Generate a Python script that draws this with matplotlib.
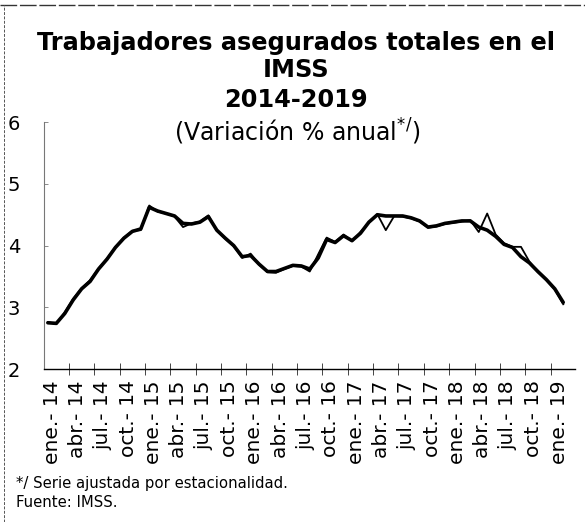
import matplotlib
matplotlib.use("Agg")
import matplotlib.pyplot as plt
from matplotlib.lines import Line2D

# monthly series, ene-14 .. feb-19 (% annual change)
serie_ajustada = [2.75, 2.74, 2.90, 3.12, 3.30, 3.42, 3.62, 3.78, 3.97, 4.12,
                  4.23, 4.27, 4.62, 4.56, 4.52, 4.48, 4.36, 4.35, 4.38, 4.47,
                  4.25, 4.12, 4.00, 3.82, 3.84, 3.70, 3.58, 3.58, 3.63, 3.68,
                  3.67, 3.62, 3.80, 4.10, 4.05, 4.16, 4.08, 4.20, 4.38, 4.50,
                  4.48, 4.48, 4.48, 4.45, 4.40, 4.30, 4.32, 4.36, 4.38, 4.40,
                  4.40, 4.30, 4.25, 4.15, 4.02, 3.97, 3.82, 3.72, 3.58, 3.45,
                  3.30, 3.08]
serie_original = [2.76, 2.73, 2.92, 3.14, 3.31, 3.44, 3.63, 3.79, 3.98, 4.13,
                  4.24, 4.25, 4.65, 4.55, 4.52, 4.47, 4.30, 4.36, 4.39, 4.49,
                  4.24, 4.11, 3.99, 3.80, 3.87, 3.69, 3.57, 3.56, 3.62, 3.67,
                  3.66, 3.58, 3.86, 4.13, 4.06, 4.18, 4.07, 4.22, 4.37, 4.51,
                  4.25, 4.48, 4.47, 4.44, 4.39, 4.29, 4.31, 4.35, 4.37, 4.39,
                  4.41, 4.22, 4.52, 4.18, 4.04, 3.98, 3.98, 3.74, 3.57, 3.44,
                  3.29, 3.05]
meses = ["ene.", "abr.", "jul.", "oct."]
anios = ["14", "15", "16", "17", "18", "19"]
etiquetas = [f"{m}- {a}" for a in anios for m in meses][:21]
y_ticks = [2, 3, 4, 5, 6]

fig = plt.figure(figsize=(5.85, 5.22), dpi=100)
ax = fig.add_axes([0.075, 0.293, 0.908, 0.473])

x = list(range(len(serie_ajustada)))
ax.plot(x, serie_ajustada, color="black", lw=2.6, solid_capstyle="round")
ax.plot(x, serie_original, color="black", lw=1.3)

ax.set_xlim(-0.47, 62.4)
ax.set_ylim(2, 6)

for s in ("top", "right"):
    ax.spines[s].set_visible(False)
ax.spines["left"].set_linestyle((0, (1, 1)))
ax.spines["left"].set_color("#777777")
ax.spines["left"].set_linewidth(0.8)
ax.spines["bottom"].set_color("black")
ax.spines["bottom"].set_linewidth(1.0)

ax.set_yticks(y_ticks)
ax.set_yticklabels([str(v) for v in y_ticks])
ax.tick_params(axis="y", direction="in", length=3, width=0.6, color="#777777",
               pad=17, labelsize=14, labelcolor="black")

ax.set_xticks([3 * k + 0.5 for k in range(len(etiquetas))])
ax.set_xticklabels(etiquetas, rotation=90)
ax.tick_params(axis="x", length=0, pad=8, labelsize=14.5)
ax.set_xticks([3 * k + 2.5 for k in range(20)], minor=True)
ax.tick_params(axis="x", which="minor", direction="inout", length=8,
               width=0.7, color="#444444")

fig.text(0.506, 0.918, "Trabajadores asegurados totales en el",
         ha="center", va="center", fontsize=17.3, fontweight="bold")
fig.text(0.506, 0.866, "IMSS", ha="center", va="center",
         fontsize=17.3, fontweight="bold")
fig.text(0.506, 0.809, "2014-2019", ha="center", va="center",
         fontsize=17.3, fontweight="bold")
fig.text(0.508, 0.748, r"(Variación % anual$^{*/}$)", ha="center",
         va="center", fontsize=17)

fig.text(0.028, 0.073, "*/ Serie ajustada por estacionalidad.",
         ha="left", va="center", fontsize=10.7)
fig.text(0.028, 0.037, "Fuente: IMSS.", ha="left", va="center",
         fontsize=10.7)

# scanned page border
fig.add_artist(Line2D([0.0, 1.0], [0.99, 0.99], transform=fig.transFigure,
                      color="#333333", lw=1.0, ls=(0, (12, 2))))
fig.add_artist(Line2D([0.007, 0.007], [0.0, 0.99], transform=fig.transFigure,
                      color="#555555", lw=0.7, ls=(0, (3, 1.5))))

fig.savefig("out.png", dpi=100)
